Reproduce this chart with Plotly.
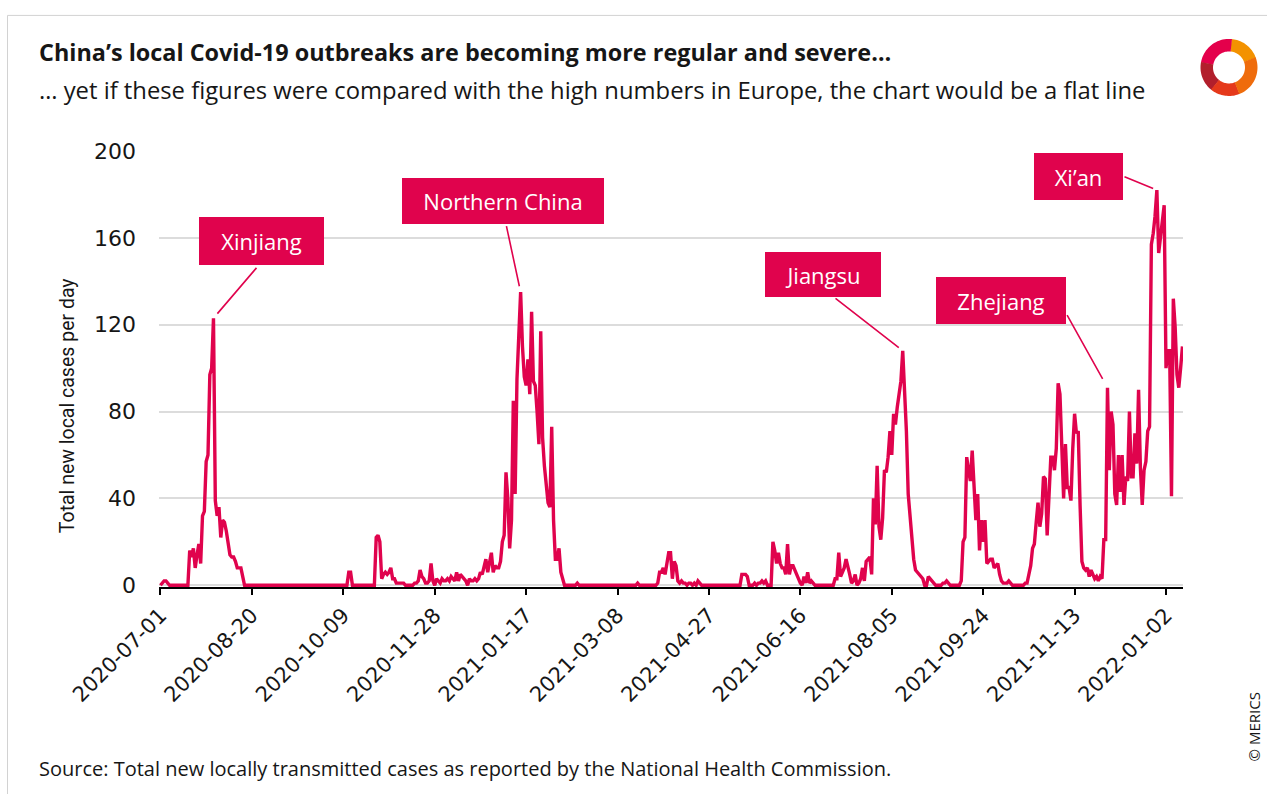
import numpy as np
import pandas as pd
import plotly.graph_objects as go

# ---------------- data ----------------
start_date = "2020-07-01"
cases = [
    0, 1, 2, 2, 1, 0, 0, 0, 0, 0,
    0, 0, 0, 0, 0, 0, 16, 13, 17, 8,
    14, 19, 10, 32, 34, 57, 60, 97, 100, 123,
    39, 32, 36, 22, 30, 29, 25, 20, 14, 13,
    13, 11, 8, 8, 8, 4, 0, 0, 0, 0,
    0, 0, 0, 0, 0, 0, 0, 0, 0, 0,
    0, 0, 0, 0, 0, 0, 0, 0, 0, 0,
    0, 0, 0, 0, 0, 0, 0, 0, 0, 0,
    0, 0, 0, 0, 0, 0, 0, 0, 0, 0,
    0, 0, 0, 0, 0, 0, 0, 0, 0, 0,
    0, 0, 0, 6, 6, 0, 0, 0, 0, 0,
    0, 0, 0, 0, 0, 0, 0, 0, 22, 23,
    20, 3, 5, 6, 5, 6, 8, 3, 3, 1,
    1, 1, 1, 1, 0, 0, 0, 0, 0, 1,
    1, 2, 7, 4, 3, 1, 1, 2, 10, 2,
    0, 3, 2, 1, 3, 2, 2, 3, 2, 4,
    3, 2, 6, 2, 5, 4, 3, 2, 0, 3,
    2, 2, 3, 2, 3, 6, 5, 8, 12, 6,
    10, 15, 6, 9, 8, 8, 11, 20, 23, 52,
    40, 17, 30, 85, 42, 95, 115, 135, 110, 96,
    92, 104, 88, 126, 94, 92, 80, 65, 117, 68,
    55, 45, 38, 36, 73, 30, 12, 12, 17, 6,
    3, 0, 0, 0, 0, 0, 0, 0, 1, 0,
    0, 0, 0, 0, 0, 0, 0, 0, 0, 0,
    0, 0, 0, 0, 0, 0, 0, 0, 0, 0,
    0, 0, 0, 0, 0, 0, 0, 0, 0, 0,
    0, 1, 0, 0, 0, 0, 0, 0, 0, 0,
    0, 0, 1, 6, 6, 8, 5, 10, 15, 15,
    3, 11, 9, 2, 1, 2, 1, 1, 0, 1,
    1, 0, 1, 0, 2, 1, 0, 0, 0, 0,
    0, 0, 0, 0, 0, 0, 0, 0, 0, 0,
    0, 0, 0, 0, 0, 0, 0, 0, 5, 5,
    5, 4, 0, 0, 0, 1, 0, 1, 1, 2,
    1, 2, 0, 0, 0, 20, 16, 10, 15, 10,
    8, 8, 5, 19, 5, 9, 9, 7, 5, 3,
    1, 0, 4, 1, 6, 1, 2, 1, 0, 0,
    0, 0, 0, 0, 0, 0, 0, 0, 0, 3,
    3, 15, 4, 6, 8, 12, 9, 5, 1, 2,
    5, 0, 1, 3, 8, 2, 11, 12, 13, 5,
    40, 28, 55, 27, 21, 31, 53, 52, 59, 71,
    60, 79, 74, 82, 88, 94, 108, 90, 71, 42,
    30, 22, 12, 7, 6, 5, 4, 3, 0, 0,
    4, 3, 2, 1, 0, 0, 0, 0, 1, 1,
    2, 1, 0, 0, 0, 0, 0, 0, 2, 20,
    22, 59, 53, 48, 62, 43, 30, 42, 16, 30,
    20, 30, 10, 11, 12, 12, 8, 9, 10, 5,
    2, 1, 1, 1, 2, 1, 0, 0, 0, 0,
    0, 0, 0, 1, 1, 5, 9, 17, 19, 29,
    38, 27, 33, 50, 49, 23, 46, 59, 59, 53,
    63, 93, 88, 65, 40, 65, 45, 45, 39, 63,
    79, 70, 71, 37, 11, 8, 7, 8, 4, 7,
    5, 3, 4, 2, 4, 3, 21, 21, 91, 53,
    80, 74, 42, 37, 60, 43, 60, 37, 50, 48,
    80, 50, 50, 70, 56, 90, 54, 37, 53, 57,
    71, 73, 157, 162, 170, 182, 153, 160, 168, 175,
    100, 108, 108, 41, 132, 119, 97, 91, 100, 110,
]
tick_labels = ["2020-07-01", "2020-08-20", "2020-10-09", "2020-11-28",
               "2021-01-17", "2021-03-08", "2021-04-27", "2021-06-16",
               "2021-08-05", "2021-09-24", "2021-11-13", "2022-01-02"]
y_ticks = [0, 40, 80, 120, 160, 200]
label_texts = ["Xinjiang", "Northern China", "Jiangsu", "Zhejiang", "Xi\u2019an"]
label_dates = ["2020-07-30", "2021-01-14", "2021-08-11", "2021-12-01", "2021-12-28"]

title = "China\u2019s local Covid-19 outbreaks are becoming more regular and severe\u2026"
subtitle = "\u2026 yet if these figures were compared with the high numbers in Europe, the chart would be a flat line"
y_title = "Total new local cases per day"
source = "Source: Total new locally transmitted cases as reported by the National Health Commission."

# ---------------- layout geometry ----------------
W, H = 1267, 794
L, R, T, B = 159, 1183, 151, 586.7
RED = "#E0034D"
TXT = "#161616"
FONT = "Open Sans"
NARROW = "Roboto"
TICKFONT = "DejaVu Sans"

dates = pd.date_range(start_date, periods=len(cases), freq="D")
d0 = pd.Timestamp(start_date)
x_lo, x_hi = -0.8, 559.3
y_lo, y_hi = -0.8, 200


def px(xp):
    return (xp - L) / (R - L)


def py(yp):
    return (B - yp) / (B - T)


def day_px(day):
    return L + (day - x_lo) / (x_hi - x_lo) * (R - L)


def val_py(v):
    return B - (v - y_lo) / (y_hi - y_lo) * (B - T)


fig = go.Figure()
fig.add_trace(go.Scatter(x=dates, y=cases, mode="lines",
                         line=dict(color=RED, width=3.4), hoverinfo="x+y",
                         showlegend=False))

annotations = []
shapes = []

# title and subtitle
annotations.append(dict(text="<b>" + title + "</b>", xref="paper", yref="paper",
                        x=px(37), y=py(52), xanchor="left", yanchor="middle",
                        showarrow=False, font=dict(family=FONT, size=23.4, color=TXT)))
annotations.append(dict(text=subtitle, xref="paper", yref="paper",
                        x=px(37), y=py(90), xanchor="left", yanchor="middle",
                        showarrow=False, font=dict(family=FONT, size=23.8, color=TXT)))
annotations.append(dict(text=y_title, xref="paper", yref="paper", textangle=-90,
                        x=px(67), y=py(406), xanchor="center", yanchor="middle",
                        showarrow=False, font=dict(family=NARROW, size=19.5, color=TXT)))
annotations.append(dict(text=source, xref="paper", yref="paper",
                        x=px(37), y=py(768), xanchor="left", yanchor="middle",
                        showarrow=False, font=dict(family=FONT, size=20, color=TXT)))
annotations.append(dict(text="\u00a9 MERICS", xref="paper", yref="paper", textangle=-90,
                        x=px(1254), y=py(727), xanchor="center", yanchor="middle",
                        showarrow=False, font=dict(family="Open Sans", size=15, color=TXT)))

# labelled outbreak boxes: (center x, center y, width, height) in pixels
boxes = [(261.5, 241, 125, 48), (503, 201, 202, 46), (823, 274.5, 116, 45),
         (1001, 300.5, 130, 47), (1078.5, 176.5, 89, 47)]
tails = [(258, 266), (506, 224), (834, 297), (1066, 313), (1123, 176)]
standoffs = [6, 6, 5, 10, 4]
for text, dstr, (cx, cy, bw, bh), (tx, ty), so in zip(label_texts, label_dates, boxes, tails, standoffs):
    annotations.append(dict(text=text, xref="paper", yref="paper", x=px(cx), y=py(cy),
                            xanchor="center", yanchor="middle", showarrow=False,
                            width=bw, height=bh, bgcolor=RED, borderpad=0, borderwidth=0,
                            font=dict(family=FONT, size=22, color="white")))
    idx = int((pd.Timestamp(dstr) - d0).days)
    v = cases[idx]
    ax = tx - day_px(idx)
    ay = ty - val_py(v)
    annotations.append(dict(text=" ", x=pd.Timestamp(dstr), y=v, xref="x", yref="y",
                            showarrow=True, arrowhead=0, arrowwidth=1.6, arrowcolor=RED,
                            ax=ax, ay=ay, standoff=so, font=dict(size=1)))

# frame lines
shapes.append(dict(type="line", xref="paper", yref="paper", x0=px(7.5), x1=px(7.5),
                   y0=py(15.5), y1=py(800), line=dict(color="#d2d2d2", width=1)))
shapes.append(dict(type="line", xref="paper", yref="paper", x0=px(7.5), x1=px(1270),
                   y0=py(15.5), y1=py(15.5), line=dict(color="#d2d2d2", width=1)))


# logo: ring of coloured sectors
def sector(cx, cy, ro, ri, a0, a1, n=24):
    a = np.radians(np.linspace(a0, a1, n))
    outer = [(cx + ro * np.cos(t), cy - ro * np.sin(t)) for t in a]
    inner = [(cx + ri * np.cos(t), cy - ri * np.sin(t)) for t in a[::-1]]
    pts = outer + inner
    path = "M " + " L ".join(f"{px(x):.5f},{py(y):.5f}" for x, y in pts) + " Z"
    return path


logo_parts = [(20, 85, "#F39200"), (84, 170, "#E4004B"), (169, 232, "#B21F2C"),
              (231, 292, "#E5391B"), (291, 381, "#EF6C0C")]
for a0, a1, col in logo_parts:
    shapes.append(dict(type="path", xref="paper", yref="paper",
                       path=sector(1229, 67.5, 28.5, 16, a0, a1),
                       fillcolor=col, line=dict(width=0), layer="above"))

fig.update_layout(
    width=W, height=H,
    margin=dict(l=L, r=W - R, t=T, b=H - B, pad=0),
    paper_bgcolor="white", plot_bgcolor="white",
    showlegend=False,
    annotations=annotations, shapes=shapes,
    xaxis=dict(type="date",
               range=[d0 + pd.Timedelta(days=x_lo), d0 + pd.Timedelta(days=x_hi)],
               tickmode="array", tickvals=tick_labels, ticktext=tick_labels,
               tickangle=-45, ticks="outside", ticklen=6, tickwidth=1.5, tickcolor="black",
               showline=True, linecolor="black", linewidth=1.5, showgrid=False,
               zeroline=False, tickfont=dict(family=TICKFONT, size=21, color=TXT)),
    yaxis=dict(range=[y_lo, y_hi], tickmode="array", tickvals=y_ticks,
               showgrid=True, gridcolor="#dcdcdc", gridwidth=1.5, zeroline=False,
               showline=False, ticks="", ticklabelstandoff=22,
               tickfont=dict(family=TICKFONT, size=22, color=TXT)),
)

fig.write_html("out.html", config={"displayModeBar": False},
               post_script="document.body.style.margin='0';")
